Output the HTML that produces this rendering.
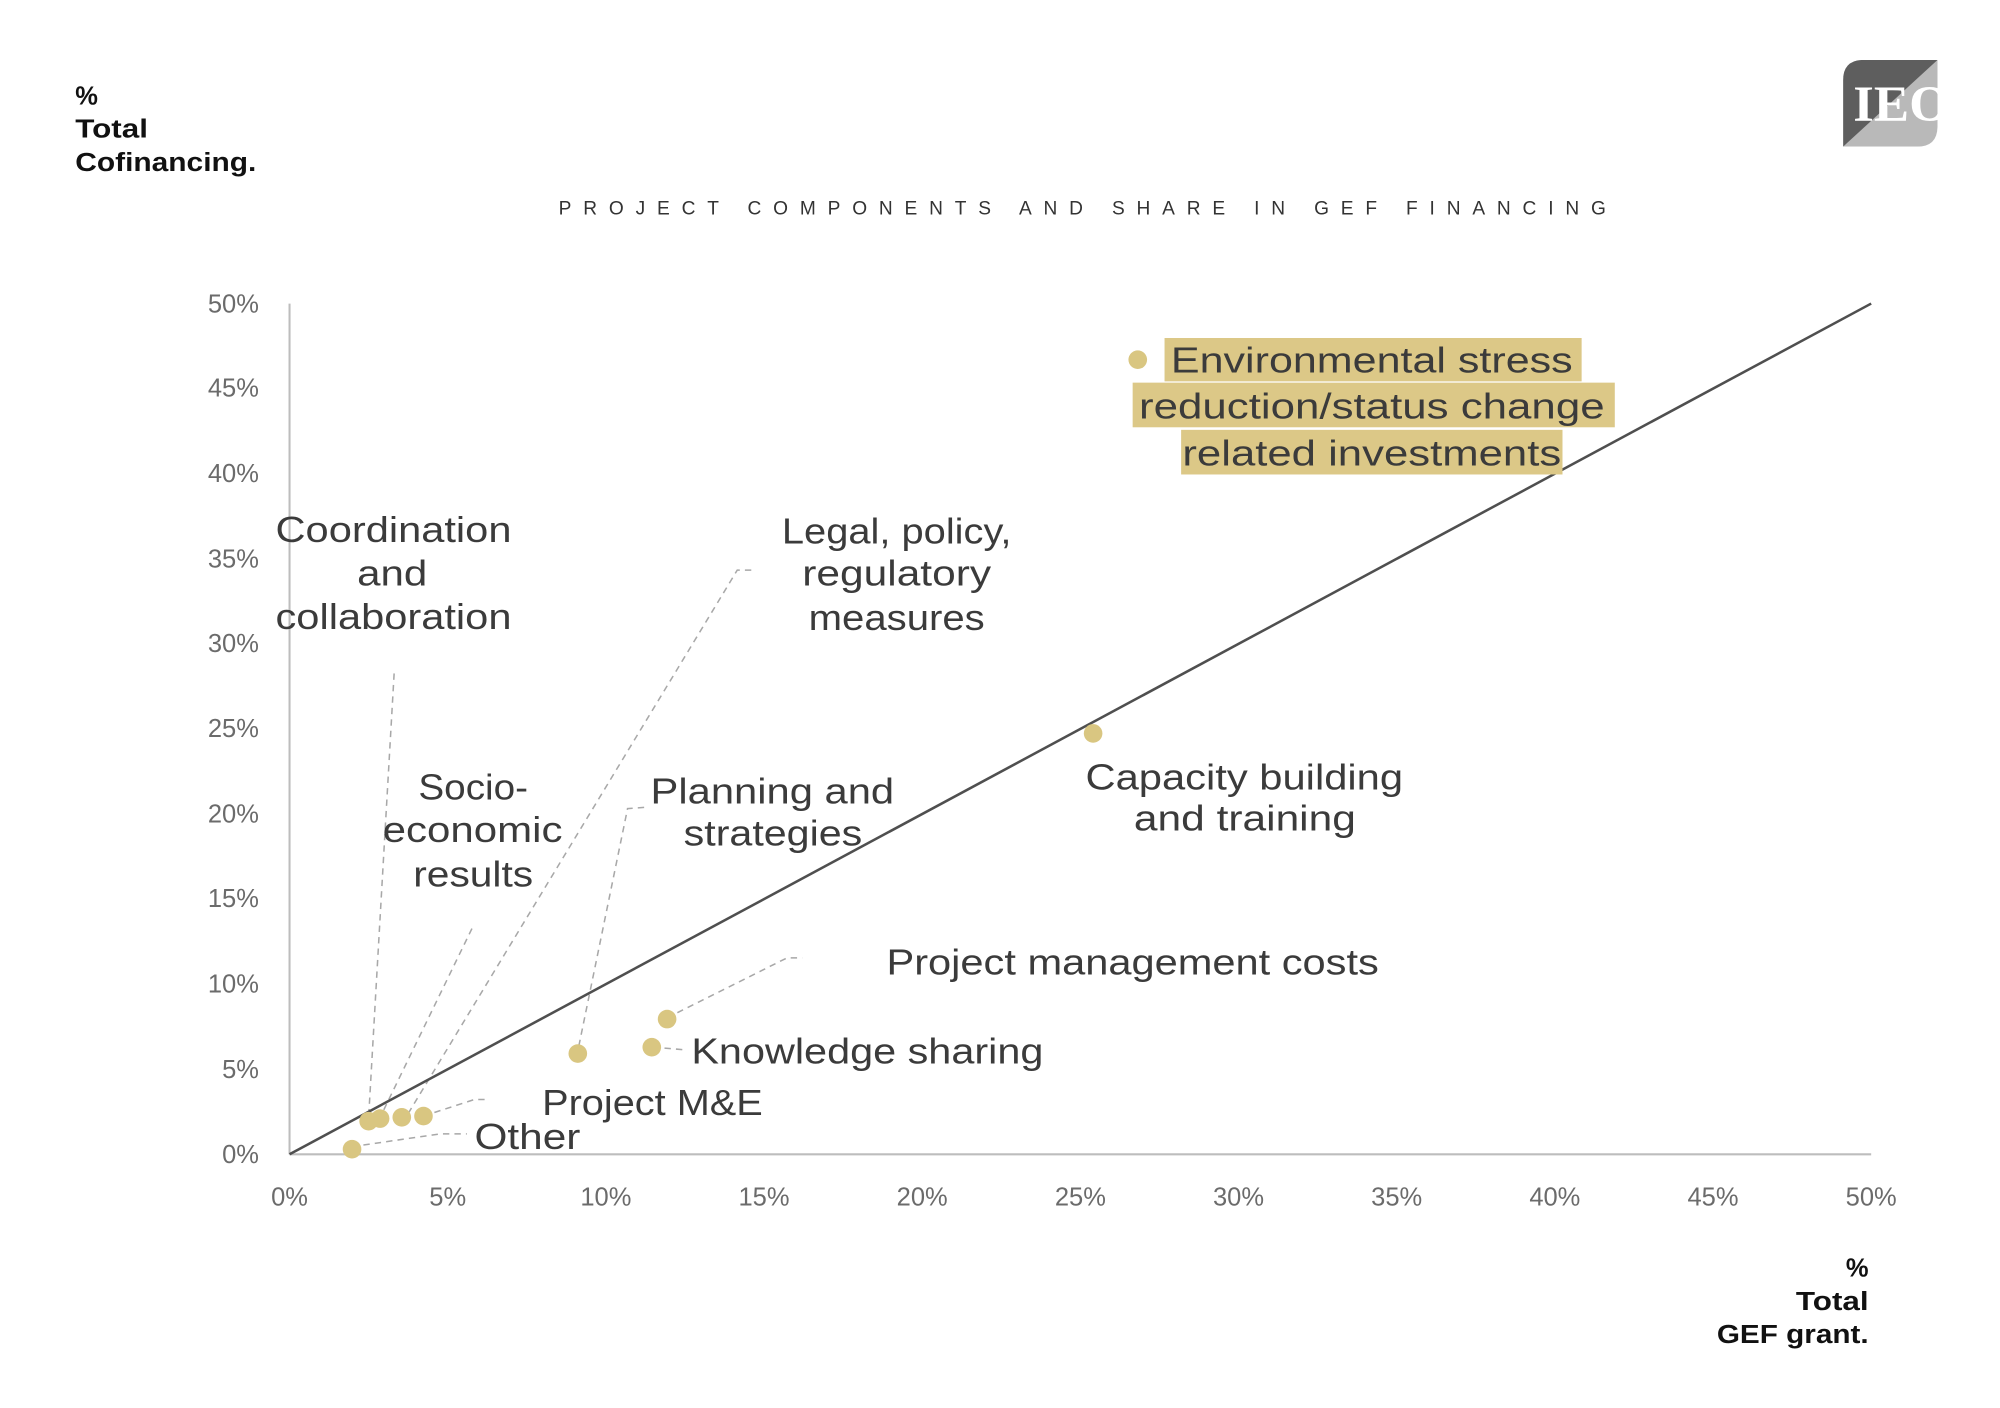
<!DOCTYPE html>
<html>
<head>
<meta charset="utf-8">
<style>
  html, body { margin: 0; padding: 0; background: #ffffff; }
  body { width: 2000px; height: 1408px; overflow: hidden; }
  svg { display: block; }
  .tick { font-family: "Liberation Sans", sans-serif; font-size: 20px; fill: #6b6b6b; }
  .lab { font-family: "Liberation Sans", sans-serif; font-size: 28px; fill: #3b3b3b; }
  .ttl { font-family: "Liberation Sans", sans-serif; font-size: 20px; font-weight: bold; fill: #111; }
  .lead { stroke: #a8a8a8; stroke-width: 1.2; stroke-dasharray: 5 4; fill: none; }
</style>
</head>
<body>
<svg width="2000" height="1408" viewBox="0 0 1568 1103.9" preserveAspectRatio="none" xmlns="http://www.w3.org/2000/svg">
  <rect x="0" y="0" width="1568" height="1104" fill="#ffffff"/>

  <!-- Axis titles -->
  <text class="ttl" x="59" y="82">%</text>
  <text class="ttl" x="59" y="108" textLength="57" lengthAdjust="spacingAndGlyphs">Total</text>
  <text class="ttl" x="59" y="134" textLength="142" lengthAdjust="spacingAndGlyphs">Cofinancing.</text>

  <text class="ttl" x="1465" y="1001" text-anchor="end">%</text>
  <text class="ttl" x="1408" y="1027" textLength="57" lengthAdjust="spacingAndGlyphs">Total</text>
  <text class="ttl" x="1346" y="1053" textLength="119" lengthAdjust="spacingAndGlyphs">GEF grant.</text>

  <!-- Chart title -->
  <text x="438" y="168" font-family="Liberation Sans, sans-serif" font-size="15" fill="#333" textLength="821" lengthAdjust="spacing">PROJECT COMPONENTS AND SHARE IN GEF FINANCING</text>

  <!-- Logo -->
  <defs>
    <clipPath id="logoClip">
      <path d="M1461,47 L1519,47 L1519,99 Q1519,115 1503,115 L1445,115 L1445,63 Q1445,47 1461,47 Z"/>
    </clipPath>
  </defs>
  <g clip-path="url(#logoClip)">
    <rect x="1440" y="40" width="90" height="80" fill="#b9b9b9"/>
    <polygon points="1440,40 1519,40 1519,47 1445,115 1440,115" fill="#5e5e5e"/>
    <text x="1453" y="95" font-family="Liberation Serif, serif" font-weight="bold" font-size="40" fill="#ffffff" textLength="76" lengthAdjust="spacingAndGlyphs">IEO</text>
  </g>

  <!-- Axes -->
  <line x1="227" y1="238" x2="227" y2="905" stroke="#bdbdbd" stroke-width="1.6"/>
  <line x1="227" y1="905" x2="1467" y2="905" stroke="#bdbdbd" stroke-width="1.6"/>

  <!-- Y tick labels -->
  <g class="tick" text-anchor="end">
    <text x="203" y="245">50%</text>
    <text x="203" y="311">45%</text>
    <text x="203" y="378">40%</text>
    <text x="203" y="445">35%</text>
    <text x="203" y="511">30%</text>
    <text x="203" y="578">25%</text>
    <text x="203" y="645">20%</text>
    <text x="203" y="711">15%</text>
    <text x="203" y="778">10%</text>
    <text x="203" y="845">5%</text>
    <text x="203" y="912">0%</text>
  </g>

  <!-- X tick labels -->
  <g class="tick" text-anchor="middle">
    <text x="227" y="945">0%</text>
    <text x="351" y="945">5%</text>
    <text x="475" y="945">10%</text>
    <text x="599" y="945">15%</text>
    <text x="723" y="945">20%</text>
    <text x="847" y="945">25%</text>
    <text x="971" y="945">30%</text>
    <text x="1095" y="945">35%</text>
    <text x="1219" y="945">40%</text>
    <text x="1343" y="945">45%</text>
    <text x="1467" y="945">50%</text>
  </g>

  <!-- Leader lines -->
  <polyline class="lead" points="309,528 289,876"/>
  <polyline class="lead" points="370,728 299,874"/>
  <polyline class="lead" points="589,447 578,447 320,873"/>
  <polyline class="lead" points="332,875 372,862 382,862"/>
  <polyline class="lead" points="276,899 345,889 366,889"/>
  <polyline class="lead" points="505,633 492,634 453,824"/>
  <polyline class="lead" points="523,798 617,751 629,751"/>
  <polyline class="lead" points="512,821 536,823"/>

  <!-- Diagonal line -->
  <line x1="227" y1="905" x2="1467" y2="238" stroke="#4f4f4f" stroke-width="2"/>

  <!-- Highlight boxes -->
  <rect x="913" y="265" width="327" height="34" fill="#dcc887"/>
  <rect x="888" y="300" width="378" height="35" fill="#dcc887"/>
  <rect x="926" y="337" width="299" height="35" fill="#dcc887"/>

  <!-- Points -->
  <g fill="#d9c681">
    <circle cx="892" cy="282" r="7.3"/>
    <circle cx="857" cy="575" r="7.3"/>
    <circle cx="523" cy="799" r="7.3"/>
    <circle cx="511" cy="821" r="7.3"/>
    <circle cx="453" cy="826" r="7.3"/>
    <circle cx="289" cy="879" r="7.3"/>
    <circle cx="298" cy="877" r="7.3"/>
    <circle cx="315" cy="876" r="7.3"/>
    <circle cx="332" cy="875" r="7.3"/>
    <circle cx="276" cy="901" r="7.3"/>
  </g>

  <!-- Labels -->
  <g class="lab">
    <text x="918" y="292" textLength="315" lengthAdjust="spacingAndGlyphs">Environmental stress</text>
    <text x="893" y="328" textLength="365" lengthAdjust="spacingAndGlyphs">reduction/status change</text>
    <text x="927" y="365" textLength="297" lengthAdjust="spacingAndGlyphs">related investments</text>

    <text x="216" y="425" textLength="185" lengthAdjust="spacingAndGlyphs">Coordination</text>
    <text x="280" y="459" textLength="55" lengthAdjust="spacingAndGlyphs">and</text>
    <text x="216" y="493" textLength="185" lengthAdjust="spacingAndGlyphs">collaboration</text>

    <text x="613" y="426" textLength="180" lengthAdjust="spacingAndGlyphs">Legal, policy,</text>
    <text x="629" y="459" textLength="148" lengthAdjust="spacingAndGlyphs">regulatory</text>
    <text x="634" y="494" textLength="138" lengthAdjust="spacingAndGlyphs">measures</text>

    <text x="328" y="627" textLength="86" lengthAdjust="spacingAndGlyphs">Socio-</text>
    <text x="300" y="660" textLength="141" lengthAdjust="spacingAndGlyphs">economic</text>
    <text x="324" y="695" textLength="94" lengthAdjust="spacingAndGlyphs">results</text>

    <text x="510" y="630" textLength="191" lengthAdjust="spacingAndGlyphs">Planning and</text>
    <text x="536" y="663" textLength="140" lengthAdjust="spacingAndGlyphs">strategies</text>

    <text x="851" y="619" textLength="249" lengthAdjust="spacingAndGlyphs">Capacity building</text>
    <text x="889" y="651" textLength="174" lengthAdjust="spacingAndGlyphs">and training</text>

    <text x="695" y="764" textLength="386" lengthAdjust="spacingAndGlyphs">Project management costs</text>
    <text x="542" y="834" textLength="276" lengthAdjust="spacingAndGlyphs">Knowledge sharing</text>
    <text x="425" y="874" textLength="173" lengthAdjust="spacingAndGlyphs">Project M&amp;E</text>
    <text x="372" y="901" textLength="83" lengthAdjust="spacingAndGlyphs">Other</text>
  </g>
</svg>
</body>
</html>
